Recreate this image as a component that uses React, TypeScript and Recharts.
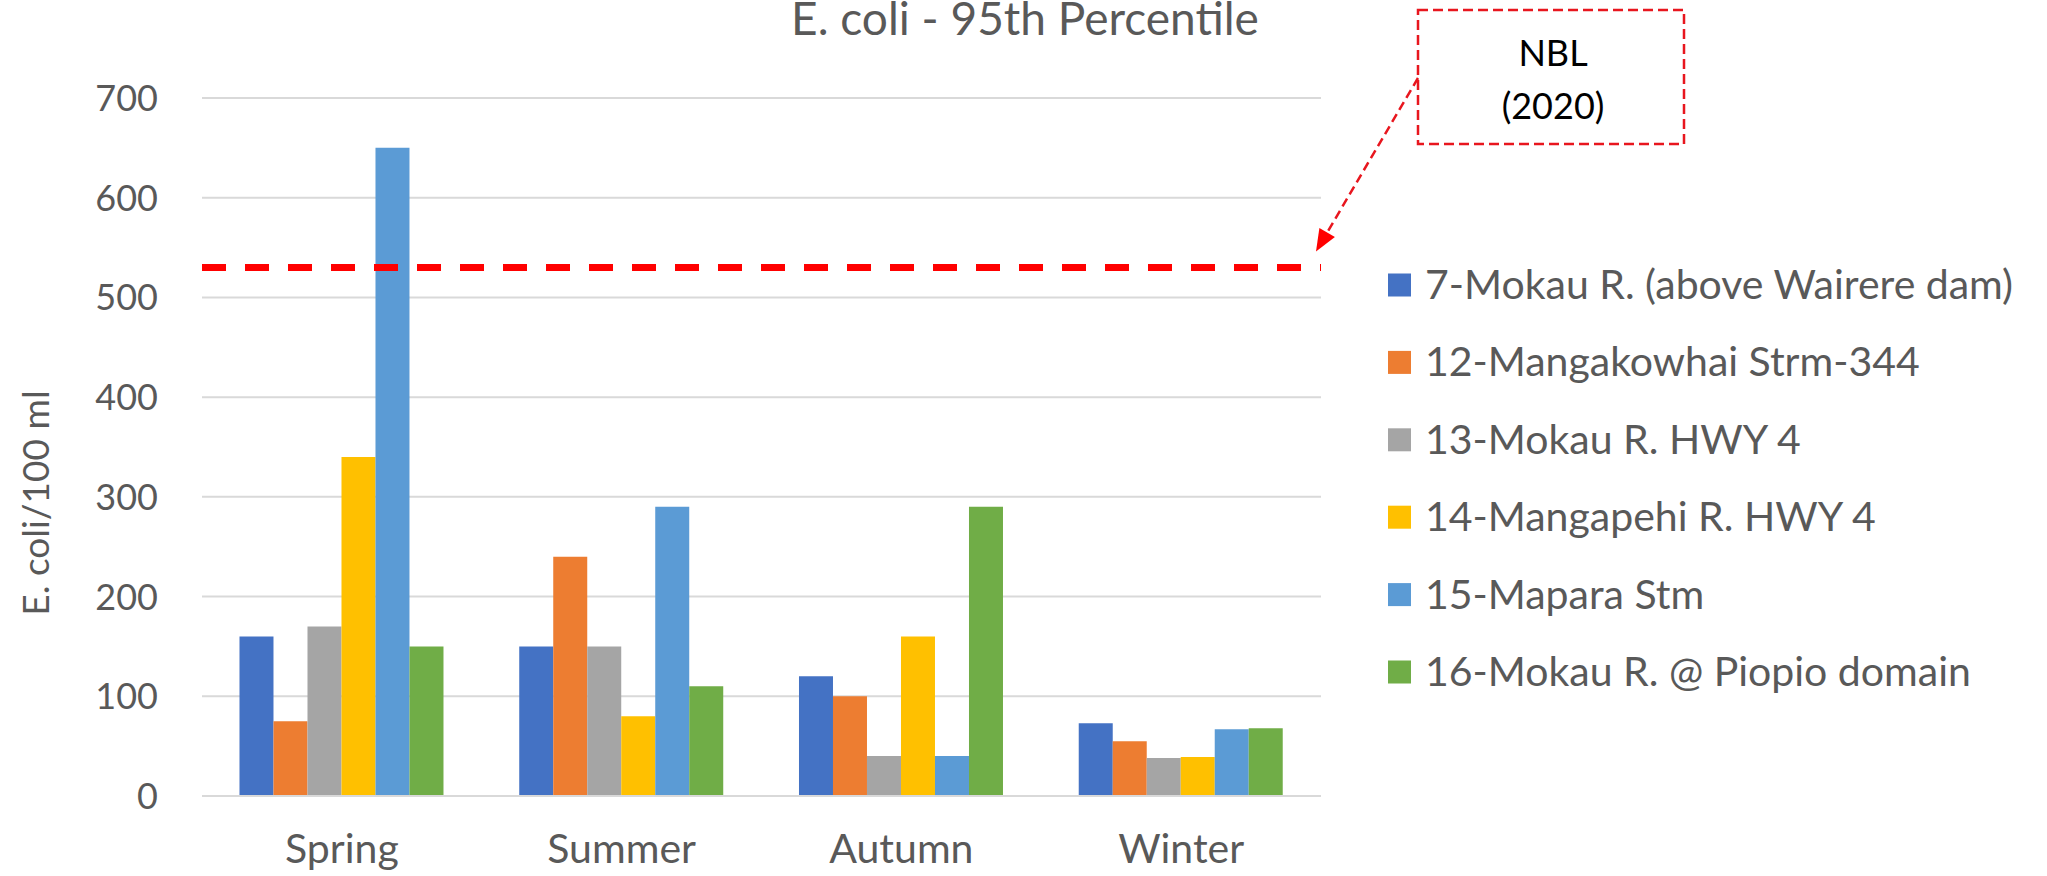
import React from 'react';
import { BarChart, Bar, XAxis, YAxis, CartesianGrid, ReferenceLine } from 'recharts';

// Seasonal E. coli 95th percentile (E. coli/100 ml) per monitoring site
const seasons = ['Spring', 'Summer', 'Autumn', 'Winter'];
const mokauAboveWairere = [160, 150, 120, 73];
const mangakowhaiStrm = [75, 240, 100, 55];
const mokauHwy4 = [170, 150, 40, 38];
const mangapehiHwy4 = [340, 80, 160, 39];
const maparaStm = [650, 290, 40, 67];
const mokauPiopio = [150, 110, 290, 68];

const siteKeys = ['s7', 's12', 's13', 's14', 's15', 's16'];
const siteNames = [
  '7-Mokau R. (above Wairere dam)',
  '12-Mangakowhai Strm-344',
  '13-Mokau R. HWY 4',
  '14-Mangapehi R. HWY 4',
  '15-Mapara Stm',
  '16-Mokau R. @ Piopio domain',
];
const siteColors = ['#4472C4', '#ED7D31', '#A5A5A5', '#FFC000', '#5B9BD5', '#70AD47'];
const siteSeries = [mokauAboveWairere, mangakowhaiStrm, mokauHwy4, mangapehiHwy4, maparaStm, mokauPiopio];

const yTicks = [0, 100, 200, 300, 400, 500, 600, 700];
const nblValue = 530;
const nblLines = ['NBL', '(2020)'];
const chartTitle = 'E. coli - 95th Percentile';
const yAxisTitle = 'E. coli/100 ml';

const data = seasons.map((season, i) => {
  const row: Record<string, string | number> = { season };
  siteKeys.forEach((k, j) => {
    row[k] = siteSeries[j][i];
  });
  return row;
});

// Layout
const W = 2047;
const H = 876;
const PLOT_LEFT = 202;
const PLOT_RIGHT = 1321;
const PLOT_TOP = 98;
const PLOT_BOTTOM = 796;
const Y_MAX = 700;
const FONT = "Lato, 'Open Sans', sans-serif";
const TEXT = '#595959';

const yPos = (v: number) => PLOT_BOTTOM - (v / Y_MAX) * (PLOT_BOTTOM - PLOT_TOP);

const XTick = (props: any) => {
  const { x, y, payload } = props;
  return (
    <text x={x} y={y + 67} textAnchor="middle" fill={TEXT} fontSize={41} fontFamily={FONT}>
      {payload.value}
    </text>
  );
};

const YTick = (props: any) => {
  const { x, y, payload } = props;
  return (
    <text x={x} y={y} dy="0.36em" textAnchor="end" fill={TEXT} fontSize={36} fontFamily={FONT}>
      {payload.value}
    </text>
  );
};

// Callout box with arrow pointing at the NBL line
const Callout = () => {
  const box = { x: 1418, y: 10, w: 266, h: 134 };
  const start = { x: box.x, y: 78 };
  const tip = { x: PLOT_RIGHT - 5, y: yPos(nblValue) - 16 };
  const dx = tip.x - start.x;
  const dy = tip.y - start.y;
  const len = Math.sqrt(dx * dx + dy * dy);
  const ux = dx / len;
  const uy = dy / len;
  const headLen = 22;
  const half = 9;
  const bx = tip.x - headLen * ux;
  const by = tip.y - headLen * uy;
  const px = -uy;
  const py = ux;
  const red = '#E8161E';
  return (
    <g>
      <rect x={box.x} y={box.y} width={box.w} height={box.h} fill="none" stroke={red} strokeWidth={2.5} strokeDasharray="10 5" />
      {nblLines.map((t, i) => (
        <text key={t} x={box.x + box.w / 2 + 2} y={66 + i * 53} textAnchor="middle" fill="#000" fontSize={36} fontFamily={FONT}>
          {t}
        </text>
      ))}
      <line x1={start.x} y1={start.y} x2={bx} y2={by} stroke={red} strokeWidth={2.5} strokeDasharray="9 5" />
      <polygon
        points={`${tip.x},${tip.y} ${bx + half * px},${by + half * py} ${bx - half * px},${by - half * py}`}
        fill="#FF0000"
      />
    </g>
  );
};

export default function App() {
  return (
    <div style={{ position: 'fixed', left: 0, top: 0, width: W, height: H, background: '#fff' }}>
      <BarChart
        width={W}
        height={H}
        data={data}
        margin={{ top: PLOT_TOP, right: W - PLOT_RIGHT, bottom: 0, left: 0 }}
        barCategoryGap="13.4%"
        barGap={0}
      >
        <CartesianGrid vertical={false} stroke="#D9D9D9" strokeWidth={2} />
        <XAxis
          dataKey="season"
          height={H - PLOT_BOTTOM}
          axisLine={{ stroke: '#D9D9D9', strokeWidth: 2 }}
          tickLine={false}
          tickSize={0}
          tickMargin={0}
          tick={<XTick />}
        />
        <YAxis
          width={PLOT_LEFT}
          domain={[0, Y_MAX]}
          ticks={yTicks}
          axisLine={false}
          tickLine={false}
          tickSize={0}
          tickMargin={44}
          tick={<YTick />}
        />
        {siteKeys.map((k, j) => (
          <Bar key={k} dataKey={k} name={siteNames[j]} fill={siteColors[j]} isAnimationActive={false} />
        ))}
        <ReferenceLine y={nblValue} stroke="#FF0000" strokeWidth={7} strokeDasharray="24 19" />
      </BarChart>
      <svg
        width={W}
        height={H}
        style={{ position: 'absolute', left: 0, top: 0, pointerEvents: 'none' }}
      >
        <text x={1025} y={35} textAnchor="middle" fill={TEXT} fontSize={46} fontFamily={FONT}>
          {chartTitle}
        </text>
        <text
          x={49}
          y={503}
          transform="rotate(-90 49 503)"
          textAnchor="middle"
          fill={TEXT}
          fontSize={37}
          fontFamily={FONT}
        >
          {yAxisTitle}
        </text>
        {siteNames.map((name, i) => {
          const cy = 285 + i * 77.4;
          return (
            <g key={name}>
              <rect x={1388} y={cy - 11.5} width={23} height={23} fill={siteColors[i]} />
              <text x={1425} y={cy + 14} fill={TEXT} fontSize={41} fontFamily={FONT}>
                {name}
              </text>
            </g>
          );
        })}
        <Callout />
      </svg>
    </div>
  );
}
